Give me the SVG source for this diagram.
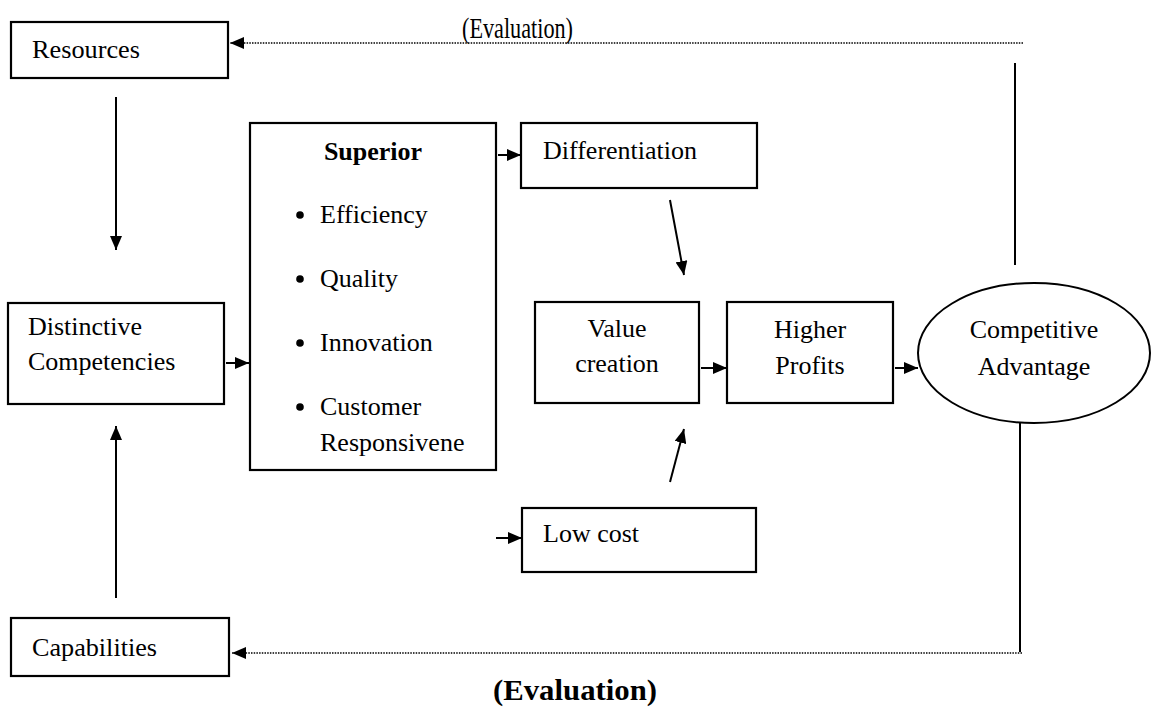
<svg xmlns="http://www.w3.org/2000/svg" width="1151" height="709" viewBox="0 0 1151 709">
<style>
.box{fill:#fff;stroke:#000;stroke-width:2.2}
.t{font-family:"Liberation Serif","Times New Roman",serif;font-size:26px;fill:#000}
.b{font-weight:bold}
.c{text-anchor:middle}
.ln{stroke:#000;stroke-width:2;fill:none}
.dot{stroke:#000;stroke-width:1.3;stroke-dasharray:1.5 1.2;fill:none}
</style>
<defs>
<marker id="ah" markerWidth="14" markerHeight="12" refX="14" refY="6" orient="auto" markerUnits="userSpaceOnUse">
<path d="M0,0 L14,6 L0,12 z" fill="#000"/>
</marker>
</defs>
<rect width="1151" height="709" fill="#fff"/>

<g id="connectors">
<path class="dot" d="M1023,43 L230,43" marker-end="url(#ah)"/>
<path class="dot" d="M1022,653 L232,653" marker-end="url(#ah)"/>
<path class="ln" d="M1015,63 L1015,265"/>
<path class="ln" d="M1020,418 L1020,652"/>
<path class="ln" d="M116,97 L116,250" marker-end="url(#ah)"/>
<path class="ln" d="M116,598 L116,426" marker-end="url(#ah)"/>
<path class="ln" d="M226,363 L249,363" marker-end="url(#ah)"/>
<path class="ln" d="M498,155 L521,155" marker-end="url(#ah)"/>
<path class="ln" d="M670,200 L684,275" marker-end="url(#ah)"/>
<path class="ln" d="M670,482 L684,429" marker-end="url(#ah)"/>
<path class="ln" d="M496,538 L522,538" marker-end="url(#ah)"/>
<path class="ln" d="M701,368 L727,368" marker-end="url(#ah)"/>
<path class="ln" d="M895,368 L918,368" marker-end="url(#ah)"/>
</g>

<g id="resources">
<rect class="box" x="11" y="22" width="217" height="56"/>
<text class="t" x="32" y="58" textLength="108" lengthAdjust="spacingAndGlyphs">Resources</text>
</g>

<g id="distinctive">
<rect class="box" x="8" y="303" width="216" height="101"/>
<text class="t" x="28" y="335">Distinctive</text>
<text class="t" x="28" y="370">Competencies</text>
</g>

<g id="capabilities">
<rect class="box" x="11" y="618" width="218" height="58"/>
<text class="t" x="32" y="656" textLength="125" lengthAdjust="spacingAndGlyphs">Capabilities</text>
</g>

<g id="superior">
<rect class="box" x="250" y="123" width="246" height="347"/>
<text class="t b c" x="373" y="160">Superior</text>
<circle cx="300" cy="215" r="3.8"/>
<text class="t" x="320" y="223">Efficiency</text>
<circle cx="300" cy="279" r="3.8"/>
<text class="t" x="320" y="287">Quality</text>
<circle cx="300" cy="343" r="3.8"/>
<text class="t" x="320" y="351">Innovation</text>
<circle cx="300" cy="407" r="3.8"/>
<text class="t" x="320" y="415">Customer</text>
<text class="t" x="320" y="451">Responsivene</text>
</g>

<g id="differentiation">
<rect class="box" x="521" y="123" width="236" height="65"/>
<text class="t" x="543" y="159">Differentiation</text>
</g>

<g id="value">
<rect class="box" x="535" y="302" width="164" height="101"/>
<text class="t c" x="617" y="337">Value</text>
<text class="t c" x="617" y="372">creation</text>
</g>

<g id="profits">
<rect class="box" x="727" y="302" width="166" height="101"/>
<text class="t c" x="810" y="338">Higher</text>
<text class="t c" x="810" y="374">Profits</text>
</g>

<g id="advantage">
<ellipse cx="1034" cy="353" rx="116" ry="70" fill="#fff" stroke="#000" stroke-width="2"/>
<text class="t c" x="1034" y="338">Competitive</text>
<text class="t c" x="1034" y="375">Advantage</text>
</g>

<g id="lowcost">
<rect class="box" x="522" y="508" width="234" height="64"/>
<text class="t" x="543" y="542">Low cost</text>
</g>

<g id="labels">
<text class="t" x="462" y="38" textLength="111" lengthAdjust="spacingAndGlyphs" style="font-size:30px">(Evaluation)</text>
<text class="t b" x="493" y="700" textLength="164" lengthAdjust="spacingAndGlyphs" style="font-size:30px">(Evaluation)</text>
</g>
</svg>
